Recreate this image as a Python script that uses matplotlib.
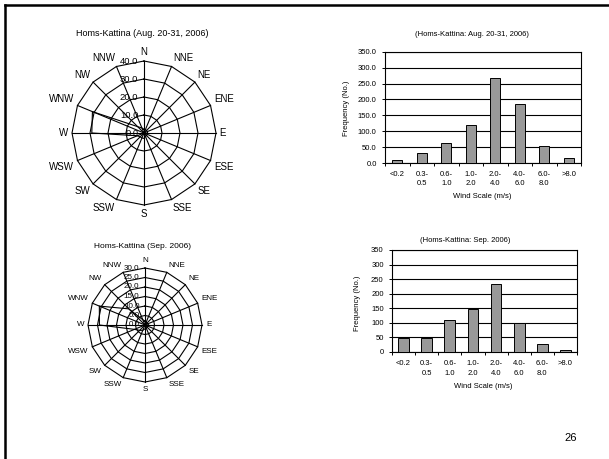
import numpy as np
import matplotlib
matplotlib.use("Agg")
import matplotlib.pyplot as plt
from matplotlib.lines import Line2D

plt.rcParams['font.family'] = ['Liberation Sans', 'DejaVu Sans']

W, H = 609, 459

# --- wind direction data (frequency per direction) ---
DIRECTIONS = ['N', 'NNE', 'NE', 'ENE', 'E', 'ESE', 'SE', 'SSE',
              'S', 'SSW', 'SW', 'WSW', 'W', 'WNW', 'NW', 'NNW']
ROSE_AUG = [2, 2, 2, 2, 2, 2, 2, 2, 3, 3, 3, 4, 29, 31, 5, 3]
ROSE_SEP = [2, 1.5, 1.5, 1.5, 2, 1.5, 1.5, 2, 2, 3, 4, 6, 24, 26, 12, 3]
RINGS_AUG = [0, 10, 20, 30, 40]
RINGS_SEP = [0, 5, 10, 15, 20, 25, 30]

# --- wind speed distribution ---
SPEED_BINS = ['<0.2', '0.3-\n0.5', '0.6-\n1.0', '1.0-\n2.0', '2.0-\n4.0',
              '4.0-\n6.0', '6.0-\n8.0', '>8.0']
FREQ_AUG = [10, 33, 62, 121, 268, 185, 52, 16]
FREQ_SEP = [47, 47, 109, 148, 233, 100, 28, 6]
FREQ_TICKS = [0, 50, 100, 150, 200, 250, 300, 350]


def fx(px):
    return px / W


def fy(py):
    return 1 - py / H


def rose_axes(fig, cx, cy, r):
    ax = fig.add_axes([fx(cx - r), fy(cy + r), 2 * r / W, 2 * r / H],
                      projection='polar')
    ax.set_theta_zero_location('N')
    ax.set_theta_direction(-1)
    ax.set_axis_off()
    return ax


def draw_rose(ax, values, rings, fs_dir, fs_ring, lab_off):
    rmax = rings[-1]
    theta = np.deg2rad(np.arange(len(DIRECTIONS)) * 22.5)
    closed = np.append(theta, theta[0])
    kw = dict(color='black', lw=0.8, clip_on=False)
    for lv in rings[1:]:
        ax.plot(closed, [lv] * len(closed), **kw)
    for t in theta:
        ax.plot([t, t], [0, rmax], **kw)
    ax.plot(closed, np.append(values, values[0]), **kw)
    ax.set_ylim(0, rmax)

    for t, name in zip(theta, DIRECTIONS):
        s, c = np.sin(t), np.cos(t)
        ha = 'left' if s > 0.1 else ('right' if s < -0.1 else 'center')
        va = 'bottom' if c > 0.1 else ('top' if c < -0.1 else 'center')
        ax.text(t, rmax * lab_off, name, ha=ha, va=va, fontsize=fs_dir)

    for lv in rings:
        ax.annotate(f'{lv:.1f}', xy=(0, lv), xytext=(-4, 0),
                    textcoords='offset points', ha='right', va='center',
                    fontsize=fs_ring)


def draw_bars(ax, freqs, width, fmt, ls):
    x = np.arange(len(SPEED_BINS))
    ax.bar(x, freqs, width=width, color='#999999', edgecolor='black',
           lw=0.7, zorder=3)
    ax.set_xlim(-0.5, len(SPEED_BINS) - 0.5)
    ax.set_ylim(0, 350)
    ax.set_yticks(FREQ_TICKS, [fmt.format(v) for v in FREQ_TICKS])
    ax.yaxis.grid(True, color='black', lw=0.8)
    ax.set_axisbelow(True)
    ax.set_xticks(x, SPEED_BINS)
    ax.set_xticks(np.arange(-0.5, len(SPEED_BINS), 1), minor=True)
    ax.tick_params(axis='x', which='major', length=0, pad=6, labelsize=5.5)
    ax.tick_params(axis='x', which='minor', length=2.5, width=0.7)
    ax.tick_params(axis='y', length=2, width=0.7, pad=4, labelsize=5.5)
    for lab in ax.get_xticklabels():
        lab.set_verticalalignment('top')
        lab.set_linespacing(ls)
    for sp in ax.spines.values():
        sp.set_linewidth(0.8)


fig = plt.figure(figsize=(W / 100, H / 100), dpi=100)

# slide frame (top and left edges)
fig.add_artist(Line2D([fx(5), fx(W)], [fy(5), fy(5)], color='black', lw=1.8))
fig.add_artist(Line2D([fx(5), fx(5)], [fy(5), fy(H)], color='black', lw=1.8))

# wind roses
ax1 = rose_axes(fig, 144, 133, 72)
draw_rose(ax1, ROSE_AUG, RINGS_AUG, 7, 6.8, 1.05)
fig.text(fx(142), fy(33), 'Homs-Kattina (Aug. 20-31, 2006)', ha='center',
         va='center', fontsize=6.5)

ax2 = rose_axes(fig, 145, 325, 57)
draw_rose(ax2, ROSE_SEP, RINGS_SEP, 5.8, 5.8, 1.07)
fig.text(fx(142), fy(247), 'Homs-Kattina (Sep. 2006)', ha='center',
         va='center', fontsize=6)

# speed histograms
ax3 = fig.add_axes([fx(385), fy(163), (581 - 385) / W, (163 - 51.7) / H])
draw_bars(ax3, FREQ_AUG, 0.42, '{:.1f}', 1.4)
fig.text(fx(472), fy(35), '(Homs-Kattina: Aug. 20-31, 2006)', ha='center',
         va='center', fontsize=5.5)
fig.text(fx(346), fy(108), 'Frequency (No.)', rotation=90, ha='center',
         va='center', fontsize=5.5)
fig.text(fx(482), fy(197), 'Wind Scale (m/s)', ha='center', va='center',
         fontsize=5.5)

ax4 = fig.add_axes([fx(392), fy(352), (577 - 392) / W, (352 - 250) / H])
draw_bars(ax4, FREQ_SEP, 0.46, '{:d}', 1.6)
fig.text(fx(465), fy(240), '(Homs-Kattina: Sep. 2006)', ha='center',
         va='center', fontsize=5.5)
fig.text(fx(358), fy(303), 'Frequency (No.)', rotation=90, ha='center',
         va='center', fontsize=5.5)
fig.text(fx(483), fy(387), 'Wind Scale (m/s)', ha='center', va='center',
         fontsize=5.5)

fig.text(fx(571), fy(438), '26', ha='center', va='center', fontsize=8)

fig.savefig('out.png', dpi=100)
